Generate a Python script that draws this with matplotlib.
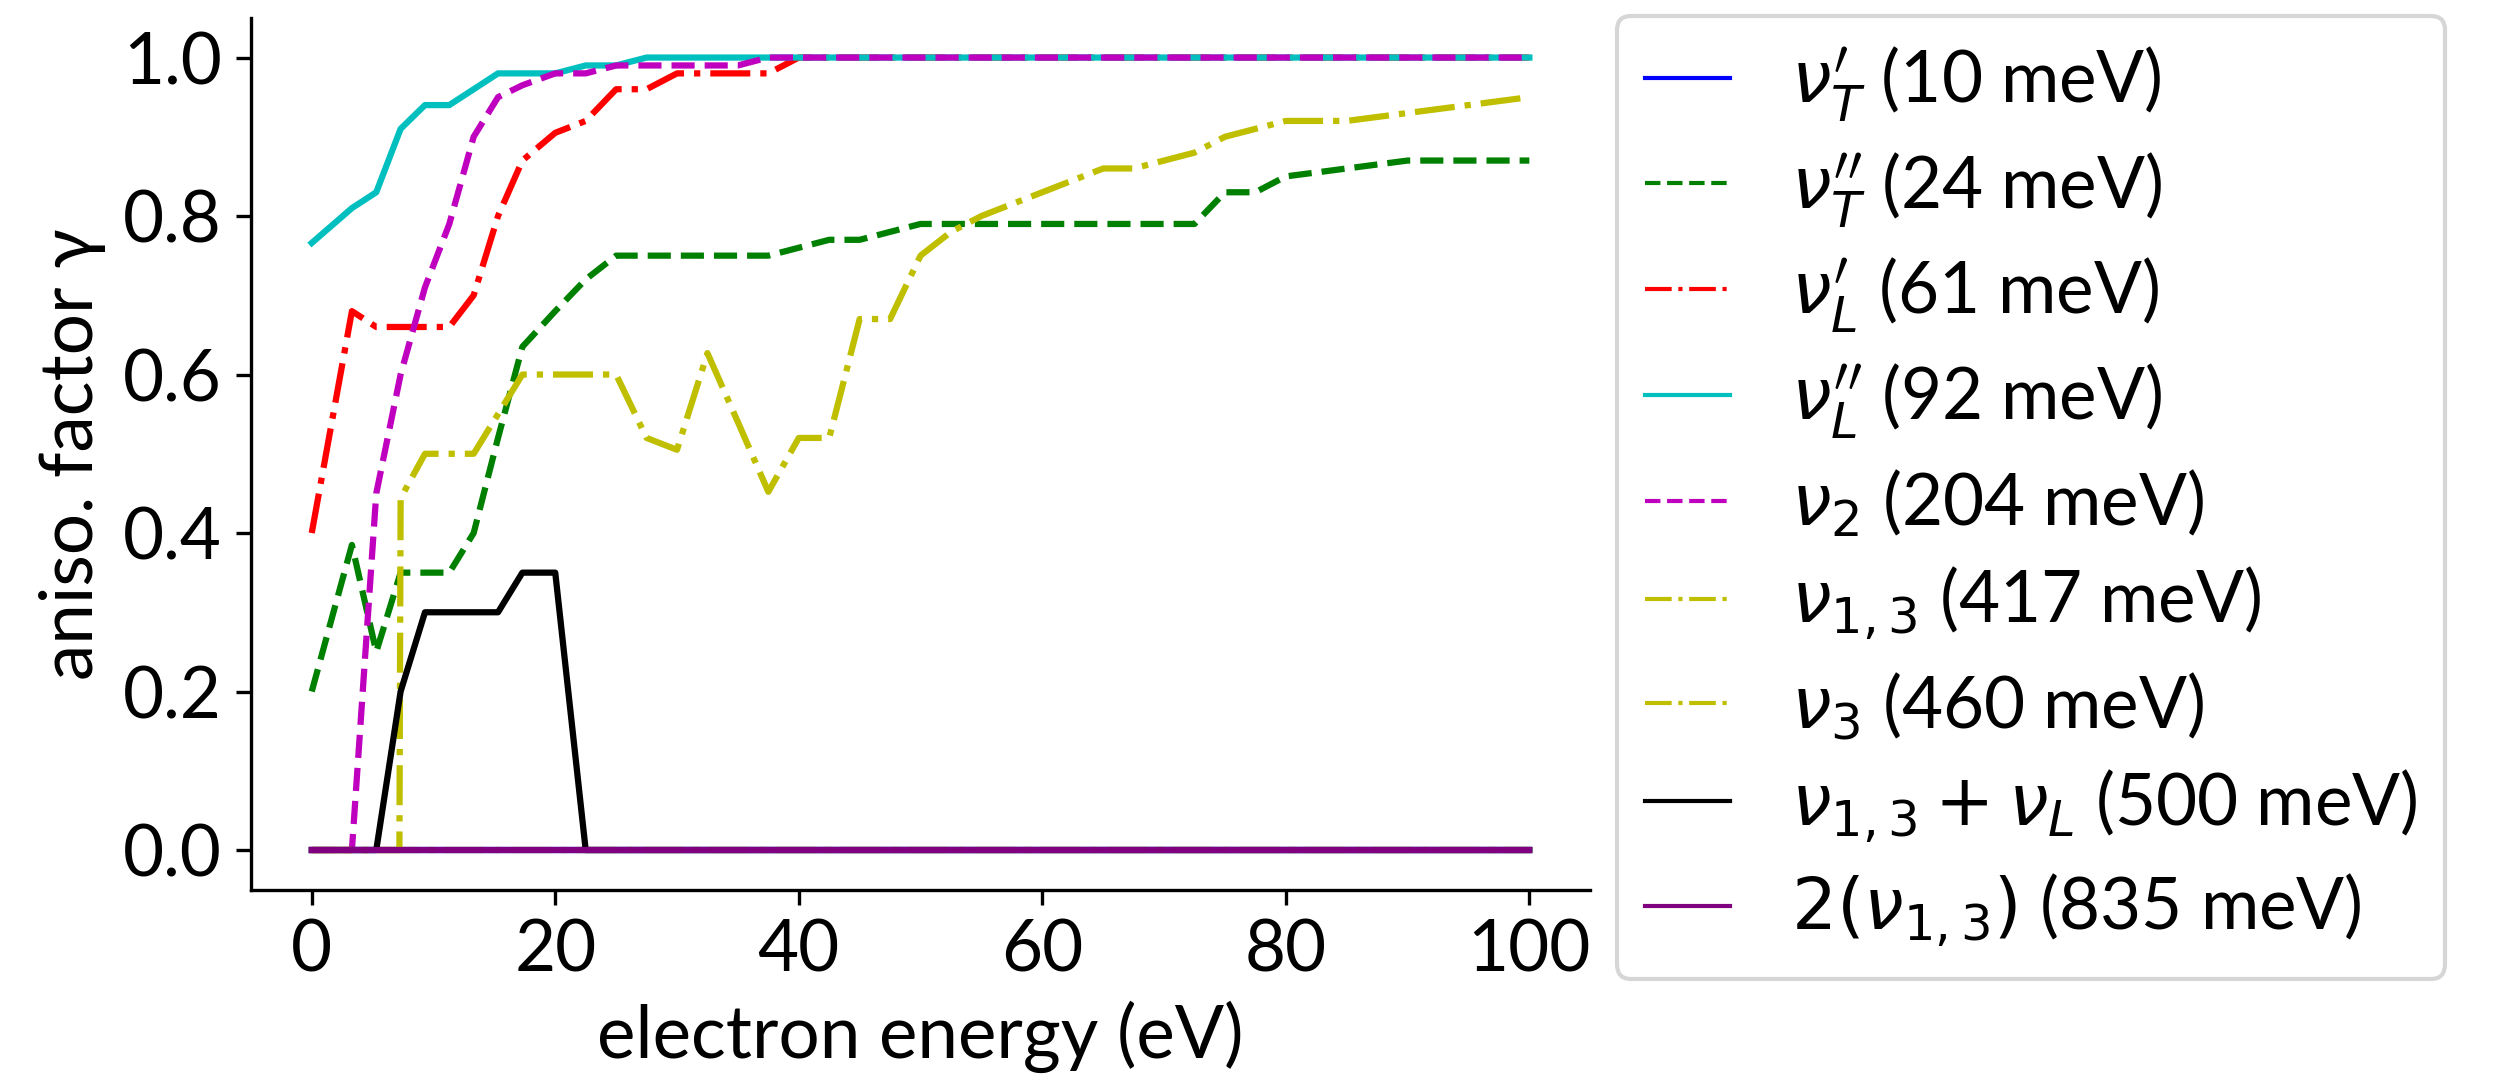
import matplotlib
matplotlib.use("Agg")
import matplotlib.pyplot as plt

plt.rcParams['font.family'] = ['Lato', 'DejaVu Sans']
plt.rcParams['mathtext.fontset'] = 'dejavusans'

# energy grid (eV)
energy = [0, 3.3, 5.3, 7.3, 9.3, 11.3, 13.3, 15.3, 17.3,
          20, 22.5, 25, 27.5, 30, 32.5, 35, 37.5, 40, 42.5, 45, 47.5, 50,
          52.5, 55, 57.5, 60, 62.5, 65, 67.5, 70, 72.5,
          75, 77.5, 80, 82.5, 85, 87.5, 90, 92.5, 95, 97.5, 100]
# the nu_1,3 curve jumps straight up near 7 eV
energy_13 = [0, 3.3, 5.3, 7.2] + energy[3:]

nuT1 = [0.0] * 42
nuT2 = [0.20, 0.385, 0.25, 0.35, 0.35, 0.35, 0.40, 0.52, 0.635,
        0.68, 0.72, 0.75, 0.75, 0.75, 0.75, 0.75, 0.75, 0.76, 0.77, 0.77, 0.78, 0.79,
        0.79, 0.79, 0.79, 0.79, 0.79, 0.79, 0.79, 0.79, 0.79,
        0.83, 0.83, 0.85, 0.855, 0.86, 0.865, 0.87, 0.87, 0.87, 0.87, 0.87]
nuL1 = [0.40, 0.68, 0.66, 0.66, 0.66, 0.66, 0.70, 0.80, 0.87,
        0.905, 0.92, 0.96, 0.96, 0.98, 0.98, 0.98, 0.98, 1.0, 1.0, 1.0, 1.0, 1.0,
        1.0, 1.0, 1.0, 1.0, 1.0, 1.0, 1.0, 1.0, 1.0,
        1.0, 1.0, 1.0, 1.0, 1.0, 1.0, 1.0, 1.0, 1.0, 1.0, 1.0]
nuL2 = [0.766, 0.81, 0.83, 0.91, 0.94, 0.94, 0.96, 0.98, 0.98,
        0.98, 0.99, 0.99, 1.0, 1.0, 1.0, 1.0, 1.0, 1.0, 1.0, 1.0, 1.0, 1.0,
        1.0, 1.0, 1.0, 1.0, 1.0, 1.0, 1.0, 1.0, 1.0,
        1.0, 1.0, 1.0, 1.0, 1.0, 1.0, 1.0, 1.0, 1.0, 1.0, 1.0]
nu2 = [0.0, 0.0, 0.45, 0.60, 0.71, 0.79, 0.90, 0.95, 0.965,
       0.98, 0.98, 0.99, 0.99, 0.99, 0.99, 0.99, 1.0, 1.0, 1.0, 1.0, 1.0, 1.0,
       1.0, 1.0, 1.0, 1.0, 1.0, 1.0, 1.0, 1.0, 1.0,
       1.0, 1.0, 1.0, 1.0, 1.0, 1.0, 1.0, 1.0, 1.0, 1.0, 1.0]
nu13 = [0.0, 0.0, 0.0, 0.0, 0.444, 0.50, 0.50, 0.50, 0.55, 0.60,
        0.60, 0.60, 0.60, 0.52, 0.505, 0.627, 0.54, 0.452, 0.52, 0.52, 0.67, 0.67, 0.75,
        0.78, 0.80, 0.815, 0.83, 0.845, 0.86, 0.86, 0.87, 0.88,
        0.90, 0.91, 0.92, 0.92, 0.92, 0.925, 0.93, 0.935, 0.94, 0.945, 0.95]
nu3 = [0.0] * 42
nu13_L = [0.0, 0.0, 0.0, 0.20, 0.30, 0.30, 0.30, 0.30, 0.35,
          0.35] + [0.0] * 32
two_nu13 = [0.0] * 42

labels = [r"$\nu^{\prime}_T$ (10 meV)", r"$\nu^{\prime\prime}_T$ (24 meV)",
          r"$\nu^{\prime}_L$ (61 meV)", r"$\nu^{\prime\prime}_L$ (92 meV)",
          r"$\nu_2$ (204 meV)", r"$\nu_{1,3}$ (417 meV)",
          r"$\nu_3$ (460 meV)", r"$\nu_{1,3} + \nu_L$ (500 meV)",
          r"$2(\nu_{1,3})$ (835 meV)"]

fig = plt.figure(figsize=(2511 / 300, 1079 / 300), dpi=300)
ax = fig.add_axes([0.0999, 0.1755, 0.5334, 0.8079])

ax.plot(energy, nuT1, 'b-', label=labels[0])
ax.plot(energy, nuT2, 'g--', label=labels[1])
ax.plot(energy, nuL1, 'r-.', label=labels[2])
ax.plot(energy, nuL2, 'c-', label=labels[3])
ax.plot(energy, nu2, 'm--', label=labels[4])
ax.plot(energy_13, nu13, 'y-.', label=labels[5])
ax.plot(energy, nu3, 'y-.', label=labels[6])
ax.plot(energy, nu13_L, 'k-', label=labels[7])
ax.plot(energy, two_nu13, '-', color='purple', label=labels[8])

ax.spines['top'].set_visible(False)
ax.spines['right'].set_visible(False)
ax.tick_params(labelsize=17)
ax.set_xlabel('electron energy (eV)', fontsize=17.5)
ax.set_ylabel('aniso. factor γ', fontsize=17.5)

leg = fig.legend(loc='upper left', bbox_to_anchor=(0.644, 0.985), fontsize=17,
                 handlelength=1.2, handletextpad=0.85, labelspacing=0.37,
                 borderaxespad=0)
for line in leg.get_lines():
    line.set_linewidth(1.0)

fig.savefig('out.png', dpi=300)
